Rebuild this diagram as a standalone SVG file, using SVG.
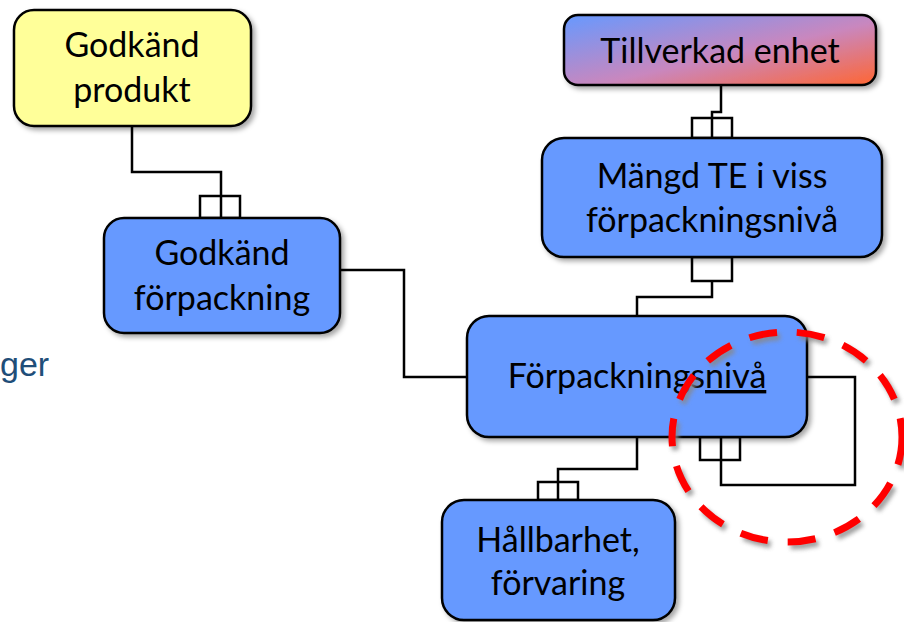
<svg xmlns="http://www.w3.org/2000/svg" width="904" height="622" viewBox="0 0 904 622">
<defs>
<style>
.box{stroke:#000;stroke-width:2.5;filter:url(#sh)}
.blue{fill:#6699FF}
.yellow{fill:#FFFF99}
.t{font-family:Lato,"Open Sans","Liberation Sans",sans-serif;font-size:34px;fill:#000;text-anchor:middle}
.c{fill:none;stroke:#000;stroke-width:2.5}
</style>
<filter id="sh" x="-10%" y="-10%" width="125%" height="130%">
<feDropShadow dx="3" dy="3" stdDeviation="2.5" flood-color="#000" flood-opacity="0.35"/>
</filter>
<filter id="sh2" x="-10%" y="-10%" width="130%" height="130%">
<feGaussianBlur stdDeviation="2"/>
</filter>
<linearGradient id="grad" x1="0" y1="0" x2="1" y2="1">
<stop offset="0" stop-color="#6699FF"/>
<stop offset="0.55" stop-color="#C987BE"/>
<stop offset="1" stop-color="#FF6633"/>
</linearGradient>
</defs>
<rect width="904" height="622" fill="#fff"/>
<text x="0" y="376" font-family="'Liberation Sans',Arial,sans-serif" font-size="34" fill="#1F4E79">ger</text>
<g id="connectors">
<polyline class="c" points="132,126 132,172 221,172 221,218"/>
<rect class="c" x="200" y="196" width="40" height="22"/>
<polyline class="c" points="340,270 404,270 404,377 467,377"/>
<polyline class="c" points="721,85 721,112 712,112 712,138"/>
<rect class="c" x="692" y="118" width="40" height="20"/>
<rect class="c" x="692" y="257" width="40" height="24"/>
<polyline class="c" points="712,281 712,297 637,297 637,316"/>
<polyline class="c" points="637,437 637,469 558,469 558,500"/>
<rect class="c" x="538" y="482" width="40" height="18"/>
<polyline class="c" points="807,377 855,377 855,485 721,485 721,437"/>
<rect class="c" x="700" y="437" width="40" height="23"/>
</g>
<g id="godkand-produkt">
<rect class="box yellow" x="14" y="10" width="237" height="116" rx="20"/>
<text class="t" x="132" y="57">Godkänd</text>
<text class="t" x="132" y="102">produkt</text>
</g>
<g id="godkand-forpackning">
<rect class="box blue" x="104" y="218" width="236" height="115" rx="20"/>
<text class="t" x="222" y="265">Godkänd</text>
<text class="t" x="222" y="310">förpackning</text>
</g>
<g id="tillverkad-enhet">
<rect class="box" fill="url(#grad)" x="564" y="15" width="312" height="70" rx="14"/>
<text class="t" x="720" y="63">Tillverkad enhet</text>
</g>
<g id="mangd-te">
<rect class="box blue" x="542" y="138" width="340" height="119" rx="22"/>
<text class="t" x="712" y="188">Mängd TE i viss</text>
<text class="t" x="712" y="232">förpackningsnivå</text>
</g>
<g id="forpackningsniva">
<rect class="box blue" x="467" y="316" width="340" height="121" rx="22"/>
<text class="t" x="637" y="388">Förpacknings<tspan text-decoration="underline">nivå</tspan></text>
</g>
<g id="hallbarhet">
<rect class="box blue" x="442" y="500" width="233" height="120" rx="22"/>
<text class="t" x="558" y="552">Hållbarhet,</text>
<text class="t" x="558" y="595">förvaring</text>
</g>
<g id="highlight">
<ellipse cx="790" cy="441" rx="115" ry="105" fill="none" stroke="#888" stroke-width="7" stroke-dasharray="28 20" filter="url(#sh2)" opacity="0.8"/>
<ellipse cx="787" cy="437" rx="115" ry="105" fill="none" stroke="#FF0000" stroke-width="7" stroke-dasharray="28 20"/>
</g>
</svg>
